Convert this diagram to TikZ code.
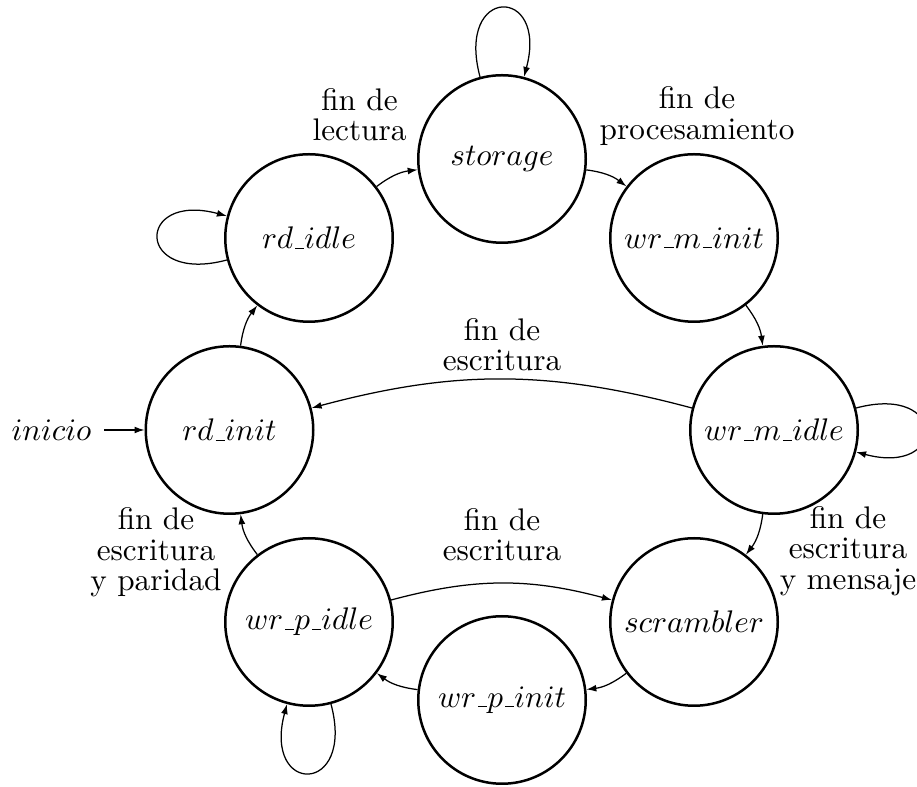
\documentclass[tikz,border=0pt]{standalone}
\usetikzlibrary{arrows.meta}
% short underscore rule used inside state names
\newcommand{\un}{\kern.06em\vbox{\hrule width.3em}}
\begin{document}
\begin{tikzpicture}[x=0.32pt,y=0.32pt,
  state/.style={circle,draw,thick,minimum size=53.6pt,inner sep=0pt},
  trans/.style={-{Latex[length=3.2pt,width=2.2pt]}},
  ring/.style={trans,bend left=15},
  selfloop/.style={trans,distance=30.4pt},
  lbl/.style={align=center,font=\fontsize{10pt}{9.8pt}\selectfont,inner sep=0pt}]
\useasboundingbox (0,0) rectangle (917,-787);

% states
\node[state] (storage)   at (502,-159)   {$storage$};
\node[state] (wrminit)   at (694,-238)   {$wr\un m\un init$};
\node[state] (wrmidle)   at (774,-430)   {$wr\un m\un idle$};
\node[state] (scrambler) at (694,-622)   {$scrambler$};
\node[state] (wrpinit)   at (502,-700)   {$wr\un p\un init$};
\node[state] (wrpidle)   at (309,-622)   {$wr\un p\un idle$};
\node[state] (rdinit)    at (229.5,-430) {$rd\un init$};
\node[state] (rdidle)    at (309,-238)   {$rd\un idle$};

% initial state marker
\node[inner sep=4pt] (inicio) at (51.5,-430) {$inicio$};
\draw[trans] (inicio) -- (rdinit);

% transitions around the ring
\draw[ring] (rdinit) to (rdidle);
\draw[ring] (rdidle) to (storage);
\draw[ring] (storage) to (wrminit);
\draw[ring] (wrminit) to (wrmidle);
\draw[ring] (wrmidle) to (scrambler);
\draw[ring] (scrambler) to (wrpinit);
\draw[ring] (wrpinit) to (wrpidle);
\draw[ring] (wrpidle) to (rdinit);
\draw[ring] (wrpidle) to (scrambler);
\draw[trans,bend right=15] (wrmidle) to (rdinit);

% self loops
\draw[selfloop] (storage) to[out=105,in=75] (storage);
\draw[selfloop] (wrmidle) to[out=15,in=-15] (wrmidle);
\draw[selfloop] (rdidle) to[out=195,in=165] (rdidle);
\draw[selfloop] (wrpidle) to[out=285,in=255] (wrpidle);

% transition labels
\node[lbl] (llect)  at (359.5,-114.5) {fin de\\lectura};
\node[lbl] (lproc)  at (697,-116)     {fin de\\procesamiento};
\node[lbl] (lesc1)  at (502,-344.5)   {fin de\\escritura};
\node[lbl] (lesc2)  at (502,-534.5)   {fin de\\escritura};
\node[lbl] (lpar)   at (156,-552.5)   {fin de\\escritura\\y paridad};
\node[lbl] (lmsg)   at (848,-551)     {fin de\\escritura\\y mensaje};
\end{tikzpicture}
\end{document}
